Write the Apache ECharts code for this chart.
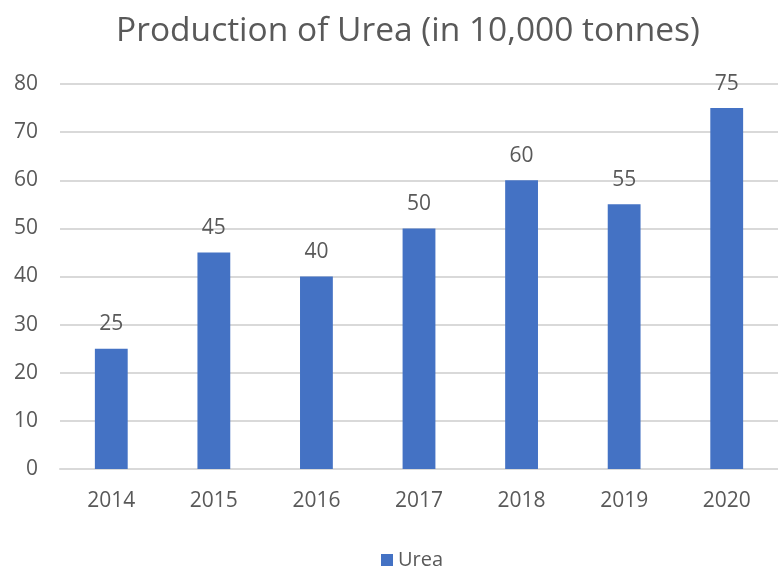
<!DOCTYPE html>
<html>
<head>
<meta charset="utf-8">
<script src="https://cdn.jsdelivr.net/npm/echarts@6/dist/echarts.min.js"></script>
<style>
  html, body { margin: 0; padding: 0; background: #fff; }
  #main { width: 778px; height: 570px; }
</style>
</head>
<body>
<div id="main"></div>
<script>
// data
const years = ['2014', '2015', '2016', '2017', '2018', '2019', '2020']
const urea = [25, 45, 40, 50, 60, 55, 75]
const yTicks = { min: 0, max: 80, interval: 10 }

const textColor = '#595959'
const fontName = 'Open Sans'

let myChart = echarts.init(document.getElementById('main'))
let option = {
  animation: false,
  title: {
    text: 'Production of Urea (in 10,000 tonnes)',
    left: 403,
    textAlign: 'center',
    top: 9,
    textStyle: {
      color: textColor,
      fontFamily: fontName,
      fontWeight: 'normal',
      fontSize: 33.5
    }
  },
  legend: {
    top: 545,
    left: 376,
    itemWidth: 12,
    itemHeight: 12,
    itemGap: 6,
    icon: 'rect',
    textStyle: {
      color: textColor,
      fontFamily: fontName,
      fontSize: 20
    }
  },
  grid: {
    left: 60,
    right: -7,
    top: 84,
    bottom: 101
  },
  xAxis: {
    type: 'category',
    data: years,
    axisTick: { show: false },
    axisLine: { lineStyle: { color: '#d9d9d9', width: 2 } },
    axisLabel: {
      color: textColor,
      fontFamily: fontName,
      fontSize: 21,
      margin: 22
    }
  },
  yAxis: {
    type: 'value',
    min: yTicks.min,
    max: yTicks.max,
    interval: yTicks.interval,
    axisLine: { show: false },
    axisTick: { show: false },
    splitLine: { lineStyle: { color: '#d9d9d9', width: 2 } },
    axisLabel: {
      color: textColor,
      fontFamily: fontName,
      fontSize: 21,
      margin: 22
    }
  },
  series: [{
    name: 'Urea',
    type: 'bar',
    data: urea,
    barWidth: '32%',
    itemStyle: { color: '#4472C4' },
    label: {
      show: true,
      position: 'top',
      distance: 14,
      color: textColor,
      fontFamily: fontName,
      fontSize: 21
    }
  }]
}
myChart.setOption(option)
</script>
</body>
</html>
